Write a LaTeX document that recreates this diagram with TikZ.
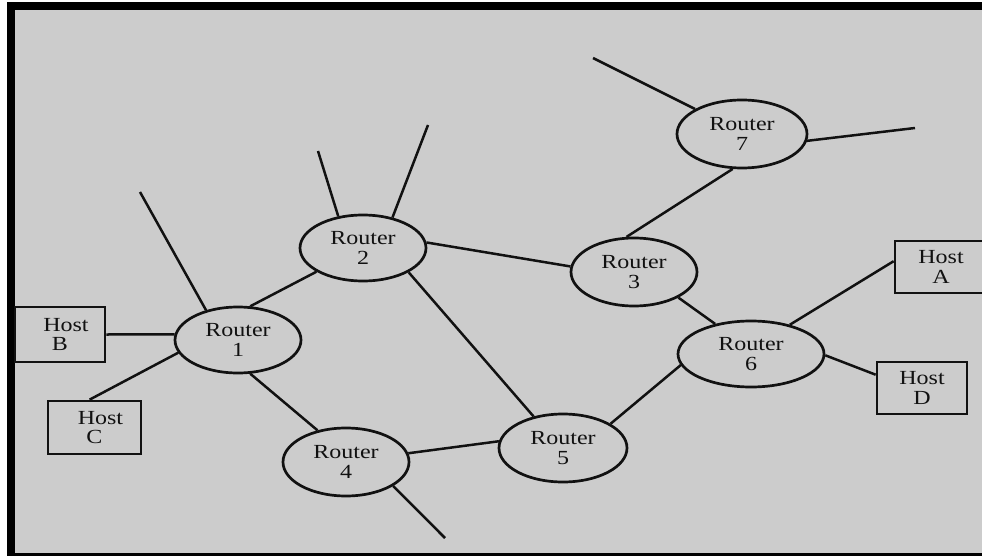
\documentclass[tikz,border=0pt]{standalone}
\usepackage{fontspec}
\newfontfamily\diagfont[FakeStretch=1.2]{Liberation Serif}
\usetikzlibrary{shapes.geometric}
\definecolor{panel}{HTML}{CCCCCC}
\definecolor{ink}{HTML}{111111}
\begin{document}
\begin{tikzpicture}[x=1pt,y=-1pt,
  link/.style={line width=2.5pt, draw=ink},
  labelfont/.style={font=\diagfont\fontsize{20}{19.5}\selectfont, text=ink},
  router/.style={ellipse, draw=ink, line width=2.7pt, inner sep=0pt,
    minimum width=126pt, minimum height=66pt, align=center, labelfont},
  hostbox/.style={rectangle, draw=ink, line width=2.7pt, inner sep=0pt,
    align=center, labelfont}]

% page, black frame and grey panel
\useasboundingbox (0,0) rectangle (982,556);
\fill[white] (0,0) rectangle (982,556);
\fill[black] (7,2) rectangle (982,556);
\fill[panel] (15,10) rectangle (982,553);

% routers
\node[router] (r1) at (238,340) {Router\\1};
\node[router] (r2) at (363,248) {Router\\2};
\node[router, minimum height=68pt] (r3) at (634,272) {Router\\3};
\node[router, minimum height=68pt] (r4) at (346,462) {Router\\4};
\node[router, minimum width=128pt, minimum height=68pt] (r5) at (563,448) {Router\\5};
\node[router, minimum width=146pt] (r6) at (751,354) {Router\\6};
\node[router, minimum width=130pt, minimum height=68pt] (r7) at (742,134) {Router\\7};

% hosts (Host A runs past the right edge of the page)
\node[hostbox, minimum width=90pt, minimum height=55pt] (hB) at (60,334.5) {\hspace*{12pt}Host\\B};
\node[hostbox, minimum width=93pt, minimum height=53pt] (hC) at (94.5,427.5) {\hspace*{12pt}Host\\C};
\node[hostbox, minimum width=92pt, minimum height=52pt] (hA) at (941,267) {Host\\A};
\node[hostbox, minimum width=90pt, minimum height=52pt] (hD) at (922,388) {Host\\D};

% open ends of links leaving the network
\coordinate (f1) at (140,192);
\coordinate (f2a) at (318,151);
\coordinate (f2b) at (428,125);
\coordinate (f7a) at (593,58);
\coordinate (f7b) at (915,128);
\coordinate (f4) at (445,538);

% links between routers
\draw[link] (r1.70) -- (r2.207);
\draw[link] (r1.290) -- (r4.132);
\draw[link] (r2.5) -- (r3.175);
\draw[link] (r2.332) -- (r5.133);
\draw[link] (r3.102) -- (r7.255);
\draw[link] (r3.330) -- (r6.140);
\draw[link] (r4.8) -- (r5.174);
\draw[link] (r5.27) -- (r6.189);

% links to hosts
\draw[link] (hB.east) -- (r1.175);
\draw[link] (hC.100) -- (r1.192);
\draw[link] (r6.37) -- (hA.173);
\draw[link] (r6.359) -- (hD.164);

% dangling links
\draw[link] (r1.137) -- (f1);
\draw[link] (r2.128) -- (f2a);
\draw[link] (r2.46) -- (f2b);
\draw[link] (r7.152) -- (f7a);
\draw[link] (r7.354) -- (f7b);
\draw[link] (r4.333) -- (f4);
\end{tikzpicture}
\end{document}
